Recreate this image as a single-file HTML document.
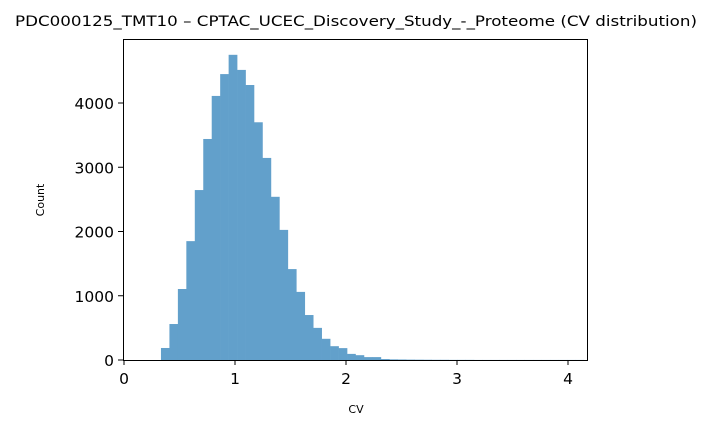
<!DOCTYPE html>
<html><head><meta charset="utf-8"><style>
body{margin:0;background:#fff;}
svg text{font-family:"DejaVu Sans","Liberation Sans",sans-serif;}
</style></head><body>
<svg id="chart" width="711" height="432">
<text x="356" y="26" text-anchor="middle" font-size="14.5" textLength="682" lengthAdjust="spacingAndGlyphs">PDC000125_TMT10 – CPTAC_UCEC_Discovery_Study_-_Proteome (CV distribution)</text>
<g id="bars"></g>
<rect x="123.5" y="39.5" width="464" height="321" fill="none" stroke="#000" stroke-width="1"/>
<g id="xticks"></g>
<g id="yticks"></g>
<text x="356" y="413" text-anchor="middle" font-size="11">CV</text>
<text transform="translate(44,200) rotate(-90)" text-anchor="middle" font-size="11">Count</text>
</svg>
<script>
const binStart = 0.333;
const binWidth = 0.0762;
const counts = [187,560,1105,1850,2645,3440,4110,4450,4750,4515,4280,3700,3145,2540,2025,1415,1060,700,500,330,215,185,95,75,45,45,15,10,8,6,5,4,3,3,2,2,2,1,1,1,1,1,1,1,1,1,1,1,1,1];
const xTicks = [0,1,2,3,4];
const yTicks = [0,1000,2000,3000,4000];
const NS="http://www.w3.org/2000/svg";
const x = v => 124 + v*111;
const y = v => 360 - v*0.06425;
const bars=document.getElementById('bars');
counts.forEach((c,i)=>{
  const r=document.createElementNS(NS,'rect');
  const x0=x(binStart+i*binWidth), x1=x(binStart+(i+1)*binWidth);
  r.setAttribute('x',x0);r.setAttribute('width',x1-x0+0.3);
  r.setAttribute('y',y(c));r.setAttribute('height',360-y(c));
  r.setAttribute('fill','#62a0cb');
  
  
  bars.appendChild(r);
});
const xg=document.getElementById('xticks');
xTicks.forEach(t=>{
  const l=document.createElementNS(NS,'line');
  l.setAttribute('x1',x(t));l.setAttribute('x2',x(t));l.setAttribute('y1',360);l.setAttribute('y2',365);l.setAttribute('stroke','#000');
  
  
  xg.appendChild(l);
  const tx=document.createElementNS(NS,'text');
  tx.setAttribute('x',x(t));tx.setAttribute('y',384);tx.setAttribute('text-anchor','middle');tx.setAttribute('font-size','15.5');
  tx.textContent=t;
  
  
  xg.appendChild(tx);
});
const yg=document.getElementById('yticks');
yTicks.forEach(t=>{
  const l=document.createElementNS(NS,'line');
  l.setAttribute('x1',118);l.setAttribute('x2',123);l.setAttribute('y1',y(t));l.setAttribute('y2',y(t));l.setAttribute('stroke','#000');
  
  
  yg.appendChild(l);
  const tx=document.createElementNS(NS,'text');
  tx.setAttribute('x',114);tx.setAttribute('y',y(t)+6);tx.setAttribute('text-anchor','end');tx.setAttribute('font-size','15.5');
  tx.textContent=t;
  
  
  yg.appendChild(tx);
});
</script>
</body></html>
